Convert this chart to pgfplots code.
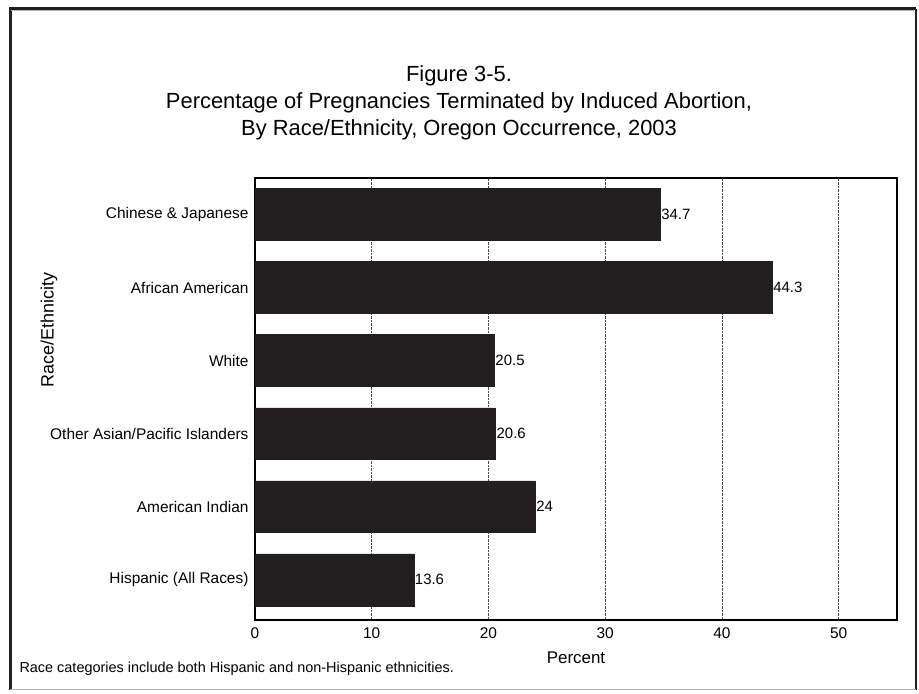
\documentclass[border=0pt]{standalone}
\usepackage{pgfplots}
\pgfplotsset{compat=1.18}
\usepackage{fontspec}
\setmainfont{Liberation Sans}
\definecolor{bardark}{HTML}{231F20}
\begin{document}
\begin{tikzpicture}[x=1bp,y=1bp]
  % page frame
  \path[use as bounding box] (0,0) rectangle (919,694);
  \draw[line width=3bp,color=bardark] (10,4) -- (10,685) -- (916,685);
  \draw[line width=1.5bp,color=bardark] (916,685) -- (916,4);
  \draw[line width=1bp,color=gray!60] (10,4) -- (916,4);
  \draw[line width=1bp,color=gray!60] (11,683.5) -- (914,683.5);

  \node[font=\fontsize{22}{27}\selectfont,align=center,anchor=north] at (459,632)
    {Figure 3-5.\\Percentage of Pregnancies Terminated by Induced Abortion,\\By Race/Ethnicity, Oregon Occurrence, 2003};

  \begin{axis}[
    at={(255bp,74bp)}, anchor=south west,
    scale only axis,
    width=642bp, height=442bp,
    xbar,
    bar width=0.71,
    xmin=0, xmax=55,
    ymin=-0.55, ymax=5.5,
    xtick={0,10,20,30,40,50},
    ytick={0,1,2,3,4,5},
    yticklabels={Hispanic (All Races),American Indian,Other Asian/Pacific Islanders,White,African American,Chinese \& Japanese},
    major tick length=0pt,
    xmajorgrids,
    grid style={densely dotted,black!70,line width=0.8bp},
    axis line style={line width=1.2bp,black},
    ticklabel style={font=\fontsize{15.5}{18}\selectfont},
    /pgf/number format/assume math mode=true,
    xticklabel style={yshift=-4bp},
    yticklabel style={xshift=-3bp},
    xlabel={Percent},
    xlabel style={font=\fontsize{17}{20}\selectfont,yshift=-7bp},
    ylabel={Race/Ethnicity},
    ylabel style={font=\fontsize{18}{21}\selectfont,at={(axis description cs:-0.321,0.656)},anchor=center},
    nodes near coords,
    nodes near coords style={font=\fontsize{15}{17}\selectfont,anchor=west,inner sep=1bp,black},
    point meta=explicit symbolic,
  ]
    \addplot[fill=bardark,draw=bardark] table[meta=label] {
      x    y  label
      13.6 0  13.6
      24   1  24
      20.6 2  20.6
      20.5 3  20.5
      44.3 4  44.3
      34.7 5  34.7
    };
  \end{axis}
  \node[font=\fontsize{14.5}{17}\selectfont,anchor=west] at (16,25)
    {Race categories include both Hispanic and non-Hispanic ethnicities.};
\end{tikzpicture}
\end{document}
